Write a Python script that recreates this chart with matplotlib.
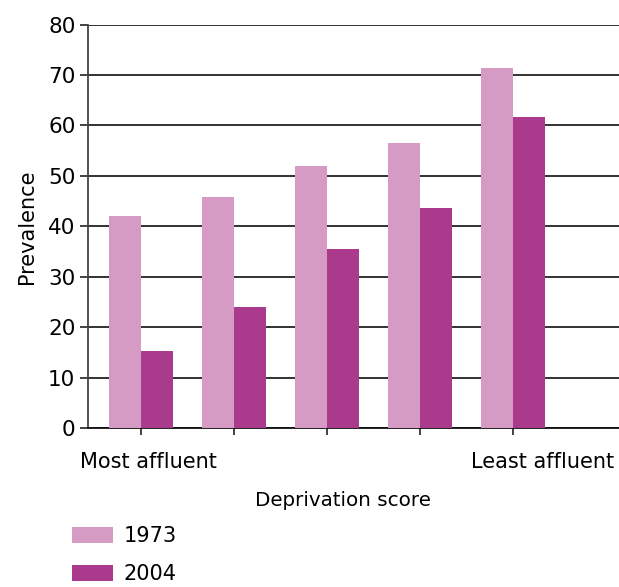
import numpy as np
import matplotlib
matplotlib.use("Agg")
import matplotlib.pyplot as plt

# values
groups = ["Most affluent", "", "", "", "Least affluent"]
years = ["1973", "2004"]
prev_1973 = [42.0, 45.8, 51.9, 56.5, 71.4]
prev_2004 = [15.2, 24.0, 35.5, 43.6, 61.6]
yticks = [0, 10, 20, 30, 40, 50, 60, 70, 80]
colors = ["#D59BC5", "#A93A8C"]

plt.rcParams["font.family"] = ["DejaVu Sans"]

fig = plt.figure(figsize=(6.19, 5.87), dpi=100)
ax = fig.add_axes([0.142, 0.271, 0.858, 0.687])

x = np.arange(len(groups))
w = 0.34
ax.bar(x - w / 2, prev_1973, width=w, color=colors[0], label=years[0], zorder=3)
ax.bar(x + w / 2, prev_2004, width=w, color=colors[1], label=years[1], zorder=3)

ax.set_xlim(-0.57, 5.14)
ax.set_ylim(0, 80)
ax.set_yticks(yticks)
ax.set_xticks(x)
ax.set_xticklabels([])
ax.tick_params(axis="y", length=6, width=1.2, color="#222222", labelsize=15.5, pad=3)
ax.tick_params(axis="x", length=5, width=1.2, color="#222222")
ax.yaxis.grid(True, color="#222222", linewidth=1.3, zorder=0)
ax.set_axisbelow(True)
for s in ["top", "right"]:
    ax.spines[s].set_visible(False)
ax.spines["left"].set_color("#444444")
ax.spines["left"].set_linewidth(1.3)
ax.spines["bottom"].set_color("#111111")
ax.spines["bottom"].set_linewidth(1.3)

ax.set_ylabel("Prevalence", fontsize=15, labelpad=8)

fig.text(80 / 619, 1 - 462 / 587, groups[0], fontsize=15, ha="left", va="center")
fig.text(614 / 619, 1 - 462 / 587, groups[-1], fontsize=15, ha="right", va="center")
fig.text(343 / 619, 1 - 500 / 587, "Deprivation score", fontsize=14.3, ha="center", va="center")

fig.legend(loc="upper left", bbox_to_anchor=(68 / 619, 1 - 522 / 587), frameon=False,
           fontsize=15, handlelength=1.95, handleheight=0.8, labelspacing=0.85,
           handletextpad=0.5, borderaxespad=0, borderpad=0.2)

fig.savefig("out.png", dpi=100)
